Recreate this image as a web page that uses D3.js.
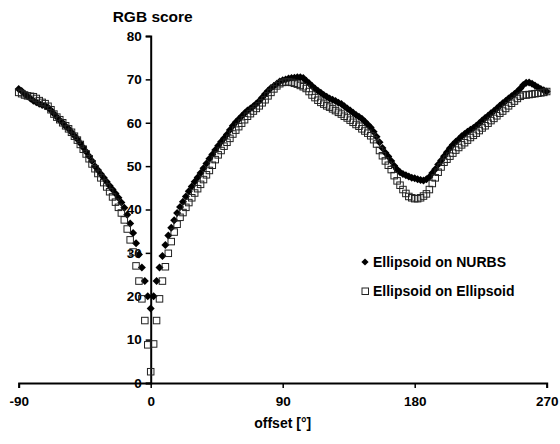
<!DOCTYPE html>
<html><head><meta charset="utf-8">
<script src="https://cdn.jsdelivr.net/npm/d3@7"></script>
<style>body{margin:0;background:#fff}svg{display:block}text{font-family:"Liberation Sans",Arial,sans-serif;font-weight:bold}</style>
</head><body><svg id="c" width="560" height="444"></svg>
<script>
const offsets = d3.range(-90, 271, 2);
const nurbs = [67.8,67.3,66.7,66.1,65.6,65.1,64.7,64.4,64.1,63.9,63.5,62.9,62.1,61.3,60.6,60.0,59.2,58.6,57.8,57.0,56.2,55.3,54.3,53.3,52.3,51.2,50.0,49.1,48.2,47.3,46.4,45.5,44.6,43.7,42.7,41.6,40.4,38.8,36.8,34.6,32.2,29.6,26.6,23.5,20.0,
17.2,
20.0,23.5,26.6,29.3,31.8,34.0,35.8,37.5,39.2,40.6,41.8,43.0,44.2,45.3,46.4,47.4,48.4,49.5,50.6,51.7,52.7,53.7,54.7,55.6,56.4,57.3,58.3,59.3,60.1,60.8,61.5,62.2,62.8,63.3,63.8,64.4,65.0,65.8,66.6,67.4,68.0,68.5,69.0,69.5,69.8,
70.0,70.2,70.3,70.4,70.5,70.5,70.3,69.7,69.1,68.5,67.9,67.4,66.9,66.4,66.0,65.6,65.3,65.0,64.6,64.3,63.8,63.3,62.8,62.3,61.8,61.4,60.9,60.3,59.6,58.9,57.9,56.8,55.5,54.2,53.1,52.2,51.2,50.1,49.2,48.6,48.2,47.9,47.6,47.3,47.2,
47.0,46.8,46.7,47.0,47.5,48.4,49.3,50.4,51.3,52.3,53.2,54.1,54.9,55.6,56.2,56.9,57.4,57.9,58.4,58.8,59.3,59.9,60.5,61.1,61.6,62.2,62.7,63.3,63.9,64.5,65.0,65.6,66.1,66.6,67.2,67.9,68.7,69.2,69.3,69.0,68.6,68.2,67.8,67.5,67.2];
const ellip = [67.0,66.7,66.4,66.2,66.1,66.0,65.6,65.1,64.7,64.4,63.8,63.0,62.0,61.3,60.7,60.0,59.3,58.6,57.8,56.9,56.0,55.0,53.9,52.8,51.7,50.5,49.4,48.3,47.3,46.2,45.2,44.1,42.9,41.7,40.5,39.2,37.6,35.5,33.0,30.2,27.0,23.5,19.4,14.4,8.8,
2.6,
9.0,14.4,19.4,23.5,26.8,29.9,32.6,34.8,36.6,38.2,39.3,40.5,41.6,42.7,43.8,44.8,45.8,46.9,48.0,49.0,50.2,51.5,52.6,53.6,54.6,55.5,56.4,57.4,58.3,59.1,59.9,60.7,61.5,62.1,62.7,63.3,63.9,64.6,65.3,66.2,67.0,67.8,68.5,69.0,69.3,
69.4,69.4,69.3,69.1,68.9,68.6,68.3,67.9,67.2,66.4,65.8,65.2,64.7,64.3,63.9,63.6,63.2,62.8,62.4,62.0,61.5,61.1,60.6,60.1,59.6,59.2,58.6,58.1,57.6,57.0,56.1,55.1,53.6,52.4,51.2,50.2,49.2,47.8,46.6,45.6,44.6,43.7,43.0,42.7,42.5,
42.5,42.7,43.1,43.6,44.6,46.0,47.3,48.6,49.8,50.9,51.6,52.3,53.0,53.7,54.3,54.9,55.4,56.0,56.6,57.1,57.6,58.2,58.8,59.3,59.9,60.5,61.0,61.6,62.2,62.7,63.3,63.9,64.5,65.0,65.6,66.1,66.4,66.4,66.5,66.6,66.7,66.8,66.9,67.0,67.2];
const xTicks = [-90, 0, 90, 180, 270];
const yTicks = [0, 10, 20, 30, 40, 50, 60, 70, 80];
const seriesNames = ["Ellipsoid on NURBS", "Ellipsoid on Ellipsoid"];
const xTitle = "offset [°]";
const yTitle = "RGB score";

const svg = d3.select("#c");
const x = d3.scaleLinear().domain([-90, 270]).range([18.7, 546.7]);
const y = d3.scaleLinear().domain([0, 80]).range([383, 36]);

const diamond = r => `M0,${-r}L${r},0L0,${r}L${-r},0Z`;
const fmt = d => String(d);

// x axis
const gx = svg.append("g").attr("transform", `translate(0,${y(0)})`)
  .call(d3.axisBottom(x).tickValues(xTicks).tickSize(5).tickPadding(8).tickFormat(fmt));
gx.select(".domain").attr("stroke", "#000").attr("stroke-width", 2);
gx.selectAll(".tick line").attr("stroke", "#000").attr("stroke-width", 1.5);
gx.selectAll(".tick text").attr("font-size", 13.5).attr("fill", "#000")
  .attr("font-family", '"Liberation Sans",Arial,sans-serif').attr("font-weight", "bold");

// y axis
const gy = svg.append("g").attr("transform", `translate(${x(0)},0)`)
  .call(d3.axisLeft(y).tickValues(yTicks).tickSize(5).tickPadding(4).tickFormat(fmt));
gy.select(".domain").attr("stroke", "#000").attr("stroke-width", 2);
gy.selectAll(".tick line").attr("stroke", "#000").attr("stroke-width", 1.5);
gy.selectAll(".tick text").attr("font-size", 13.5).attr("fill", "#000")
  .attr("font-family", '"Liberation Sans",Arial,sans-serif').attr("font-weight", "bold");

// series 1: diamonds
svg.append("g").selectAll("path").data(offsets.map((o, i) => [o, nurbs[i]]))
  .join("path").attr("d", diamond(4))
  .attr("transform", d => `translate(${x(d[0])},${y(d[1])})`)
  .attr("fill", "#000");

// series 2: squares
svg.append("g").selectAll("rect").data(offsets.map((o, i) => [o, ellip[i]]))
  .join("rect")
  .attr("x", d => x(d[0]) - 3.25).attr("y", d => y(d[1]) - 3.25)
  .attr("width", 6.5).attr("height", 6.5)
  .attr("fill", "none").attr("stroke", "#222").attr("stroke-width", 1);

// titles
svg.append("text").attr("x", x(0) + 2).attr("y", 22).attr("text-anchor", "middle")
  .attr("font-size", 15.5).text(yTitle);
svg.append("text").attr("x", x(90)).attr("y", 428).attr("text-anchor", "middle")
  .attr("font-size", 14).text(xTitle);

// legend
const lg = svg.append("g");
lg.append("path").attr("d", diamond(3.6)).attr("transform", "translate(365,262)").attr("fill", "#000");
lg.append("rect").attr("x", 362).attr("y", 288).attr("width", 6.5).attr("height", 6.5)
  .attr("fill", "none").attr("stroke", "#222");
lg.append("text").attr("x", 373).attr("y", 266.5).attr("font-size", 14).text(seriesNames[0]);
lg.append("text").attr("x", 373).attr("y", 295.5).attr("font-size", 14).text(seriesNames[1]);
</script></body></html>
